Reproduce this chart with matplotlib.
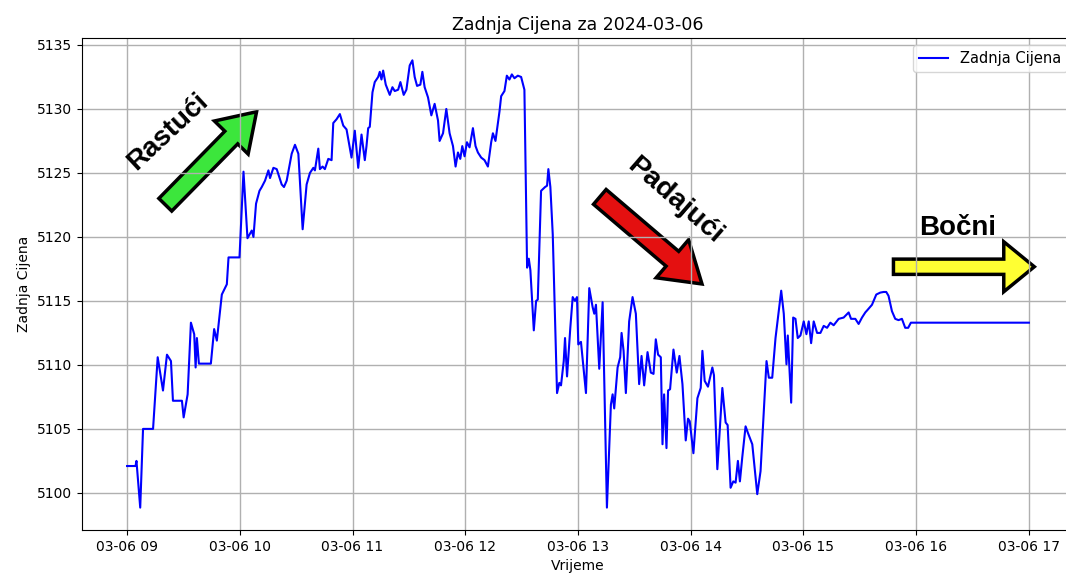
import numpy as np
import pandas as pd
import matplotlib
matplotlib.use("Agg")
import matplotlib.pyplot as plt
import matplotlib.dates as mdates
from matplotlib.patches import FancyArrowPatch

datum = "2024-03-06"

vremena = [
    "09:00:00", "09:04:30", "09:05:00", "09:07:00", "09:08:30", "09:13:50", "09:16:18", "09:19:07",
    "09:21:14", "09:23:22", "09:24:25", "09:29:12", "09:30:07", "09:32:14", "09:33:59", "09:35:44",
    "09:36:29", "09:37:10", "09:38:14", "09:44:36", "09:46:21", "09:47:47", "09:50:26", "09:53:06",
    "09:54:00", "09:59:50", "10:01:58", "10:04:05", "10:06:22", "10:07:16", "10:08:39", "10:10:28",
    "10:11:41", "10:13:26", "10:15:14", "10:16:05", "10:17:53", "10:19:39", "10:22:18", "10:23:31",
    "10:24:58", "10:27:37", "10:29:22", "10:31:10", "10:33:27", "10:35:34", "10:37:20", "10:39:08",
    "10:39:59", "10:41:47", "10:42:38", "10:44:04", "10:45:17", "10:47:06", "10:48:51", "10:49:45",
    "10:51:31", "10:53:16", "10:55:04", "10:56:49", "10:59:28", "11:01:13", "11:03:02", "11:04:47",
    "11:06:32", "11:07:26", "11:08:20", "11:09:11", "11:10:37", "11:11:50", "11:13:39", "11:14:30",
    "11:15:24", "11:16:18", "11:17:41", "11:19:49", "11:21:14", "11:22:28", "11:24:16", "11:25:29",
    "11:27:14", "11:28:40", "11:30:26", "11:31:52", "11:33:05", "11:34:21", "11:36:06", "11:37:10",
    "11:38:23", "11:40:11", "11:41:57", "11:43:42", "11:45:30", "11:46:21", "11:48:10", "11:49:55",
    "11:51:40", "11:53:28", "11:54:51", "11:56:07", "11:57:21", "11:58:25", "11:59:38", "12:00:54",
    "12:02:17", "12:04:05", "12:05:28", "12:06:44", "12:08:29", "12:10:15", "12:12:03", "12:13:48",
    "12:14:43", "12:16:05", "12:18:13", "12:19:07", "12:20:52", "12:22:08", "12:23:31", "12:24:48",
    "12:26:11", "12:27:59", "12:29:44", "12:31:29", "12:32:55", "12:33:49", "12:34:40", "12:36:29",
    "12:37:42", "12:38:36", "12:40:21", "12:42:29", "12:43:32", "12:44:14", "12:45:18", "12:46:34",
    "12:48:51", "12:50:04", "12:50:58", "12:52:25", "12:53:06", "12:54:10", "12:55:55", "12:57:11",
    "12:58:25", "12:59:28", "13:00:10", "13:01:35", "13:04:15", "13:06:00", "13:07:49", "13:08:40",
    "13:09:34", "13:11:19", "13:13:07", "13:15:24", "13:17:31", "13:18:26", "13:19:17", "13:21:05",
    "13:22:28", "13:23:12", "13:24:16", "13:25:29", "13:27:14", "13:29:03", "13:30:48", "13:32:33",
    "13:33:50", "13:35:13", "13:37:01", "13:38:46", "13:40:12", "13:41:25", "13:42:38", "13:44:05",
    "13:44:59", "13:45:50", "13:47:06", "13:47:57", "13:49:01", "13:50:49", "13:52:34", "13:54:00",
    "13:55:36", "13:57:21", "13:58:34", "13:59:28", "14:01:26", "14:03:34", "14:05:19", "14:06:13",
    "14:07:26", "14:09:11", "14:11:31", "14:12:22", "14:14:10", "14:16:50", "14:18:35", "14:19:39",
    "14:21:14", "14:22:40", "14:23:53", "14:25:07", "14:26:11", "14:27:27", "14:29:12", "14:30:25",
    "14:32:46", "14:35:25", "14:37:10", "14:40:21", "14:41:35", "14:43:23", "14:45:08", "14:48:10",
    "14:49:32", "14:50:58", "14:51:40", "14:53:28", "14:54:32", "14:55:45", "14:56:58", "14:58:24",
    "15:00:10", "15:01:35", "15:02:49", "15:04:05", "15:05:28", "15:07:16", "15:09:02", "15:10:47",
    "15:12:35", "15:14:20", "15:16:05", "15:18:45", "15:21:24", "15:24:04", "15:25:20", "15:27:37",
    "15:29:22", "15:31:10", "15:32:55", "15:34:08", "15:36:29", "15:38:46", "15:40:53", "15:42:38",
    "15:44:04", "15:45:17", "15:47:06", "15:48:51", "15:50:36", "15:52:25", "15:54:10", "15:55:45",
    "15:57:11", "17:00:00",
]

cijene = [
    5102.1, 5102.1, 5102.5, 5098.85, 5105.0, 5105.0, 5110.6, 5108.0,
    5110.8, 5110.3, 5107.2, 5107.2, 5105.9, 5107.7, 5113.3, 5112.4,
    5109.8, 5112.1, 5110.1, 5110.1, 5112.8, 5111.9, 5115.5, 5116.3,
    5118.4, 5118.4, 5125.1, 5119.9, 5120.5, 5120.0, 5122.6, 5123.6,
    5123.9, 5124.4, 5125.2, 5124.6, 5125.4, 5125.3, 5124.1, 5123.9,
    5124.4, 5126.5, 5127.2, 5126.5, 5120.6, 5124.1, 5125.0, 5125.4,
    5125.2, 5126.9, 5125.3, 5125.5, 5125.3, 5126.1, 5126.0, 5128.9,
    5129.2, 5129.6, 5128.7, 5128.4, 5126.2, 5128.3, 5125.4, 5128.0,
    5126.0, 5127.1, 5128.5, 5128.6, 5131.3, 5132.1, 5132.5, 5132.9,
    5132.3, 5133.0, 5131.9, 5131.1, 5131.7, 5131.4, 5131.5, 5132.1,
    5131.1, 5131.5, 5133.4, 5133.8, 5132.5, 5131.8, 5131.9, 5132.9,
    5131.7, 5130.9, 5129.5, 5130.4, 5129.1, 5127.5, 5128.1, 5130.0,
    5128.1, 5127.1, 5125.5, 5126.6, 5126.1, 5127.1, 5126.3, 5127.4,
    5127.0, 5128.5, 5127.1, 5126.6, 5126.2, 5126.0, 5125.5, 5127.4,
    5128.1, 5127.5, 5129.8, 5131.0, 5131.4, 5132.6, 5132.3, 5132.7,
    5132.4, 5132.6, 5132.5, 5131.5, 5117.6, 5118.3, 5117.4, 5112.7,
    5115.0, 5115.1, 5123.6, 5123.9, 5124.0, 5125.3, 5123.9, 5120.2,
    5107.8, 5108.6, 5108.4, 5110.3, 5112.1, 5109.1, 5112.9, 5115.3,
    5115.0, 5115.3, 5111.6, 5111.8, 5107.8, 5116.0, 5114.5, 5114.0,
    5114.7, 5109.7, 5114.9, 5098.85, 5106.9, 5107.7, 5106.6, 5109.8,
    5110.6, 5112.5, 5111.1, 5107.8, 5113.4, 5115.3, 5114.0, 5108.5,
    5110.7, 5108.4, 5111.0, 5109.4, 5109.3, 5112.0, 5110.8, 5110.6,
    5103.8, 5107.7, 5103.5, 5108.0, 5108.1, 5111.2, 5109.4, 5110.7,
    5108.5, 5104.1, 5105.8, 5105.6, 5103.1, 5107.4, 5108.2, 5111.1,
    5108.75, 5108.3, 5109.8, 5109.2, 5101.85, 5108.2, 5105.5, 5105.3,
    5100.4, 5100.9, 5100.8, 5102.5, 5100.9, 5102.8, 5105.2, 5104.7,
    5103.8, 5099.9, 5101.7, 5110.3, 5109.0, 5109.0, 5112.1, 5115.8,
    5114.0, 5110.05, 5112.3, 5107.05, 5113.7, 5113.6, 5112.1, 5112.3,
    5113.4, 5112.4, 5113.4, 5111.7, 5113.4, 5112.5, 5112.5, 5113.05,
    5112.9, 5113.3, 5113.1, 5113.6, 5113.7, 5114.1, 5113.6, 5113.6,
    5113.2, 5113.7, 5114.1, 5114.3, 5114.7, 5115.5, 5115.65, 5115.7,
    5115.7, 5115.4, 5114.2, 5113.6, 5113.5, 5113.6, 5112.9, 5112.9,
    5113.3, 5113.3,
]

vrijeme = pd.to_datetime([datum + " " + t for t in vremena])

fig = plt.figure(figsize=(10.66, 5.76), dpi=100)
ax = fig.add_axes([0.0769, 0.0799, 0.9306, 0.8542])

ax.plot(vrijeme, cijene, color="blue", linewidth=1.5, label="Zadnja Cijena")
ax.set_title("Zadnja Cijena za " + datum, fontsize=12.5)
ax.set_xlabel("Vrijeme", fontsize=10)
ax.set_ylabel("Zadnja Cijena", fontsize=10)
ax.xaxis.set_major_locator(mdates.HourLocator())
ax.xaxis.set_major_formatter(mdates.DateFormatter("%m-%d %H"))
ax.grid(True, color="#b0b0b0", linewidth=1)
ax.legend(loc="upper right", fontsize=10.5)

# strelice za trend (u koordinatama osi)
def strelica(start, kraj, boja, glava_w, glava_l, rep_w):
    stil = f"simple,head_width={glava_w},head_length={glava_l},tail_width={rep_w}"
    p = FancyArrowPatch(start, kraj, transform=ax.transAxes, arrowstyle=stil,
                        mutation_scale=1, facecolor=boja, edgecolor="black",
                        linewidth=2.5, shrinkA=0, shrinkB=0, clip_on=False,
                        joinstyle="miter")
    ax.add_patch(p)

strelica((0.084, 0.661), (0.176, 0.850), "#3ce63c", 34, 26, 13)
strelica((0.522, 0.677), (0.625, 0.500), "#e41010", 36, 28, 14)
strelica((0.818, 0.535), (0.960, 0.535), "#ffff33", 36, 22, 11)

ax.text(0.087, 0.81, "Rastući", transform=ax.transAxes, rotation=43,
        ha="center", va="center", fontsize=20, fontweight="bold", family="Liberation Sans")
ax.text(0.598, 0.670, "Padajući", transform=ax.transAxes, rotation=-41,
        ha="center", va="center", fontsize=20.5, fontweight="bold", family="Liberation Sans")
ax.text(0.883, 0.614, "Bočni", transform=ax.transAxes,
        ha="center", va="center", fontsize=20, fontweight="bold", family="Liberation Sans")

fig.savefig("out.png", dpi=100)
